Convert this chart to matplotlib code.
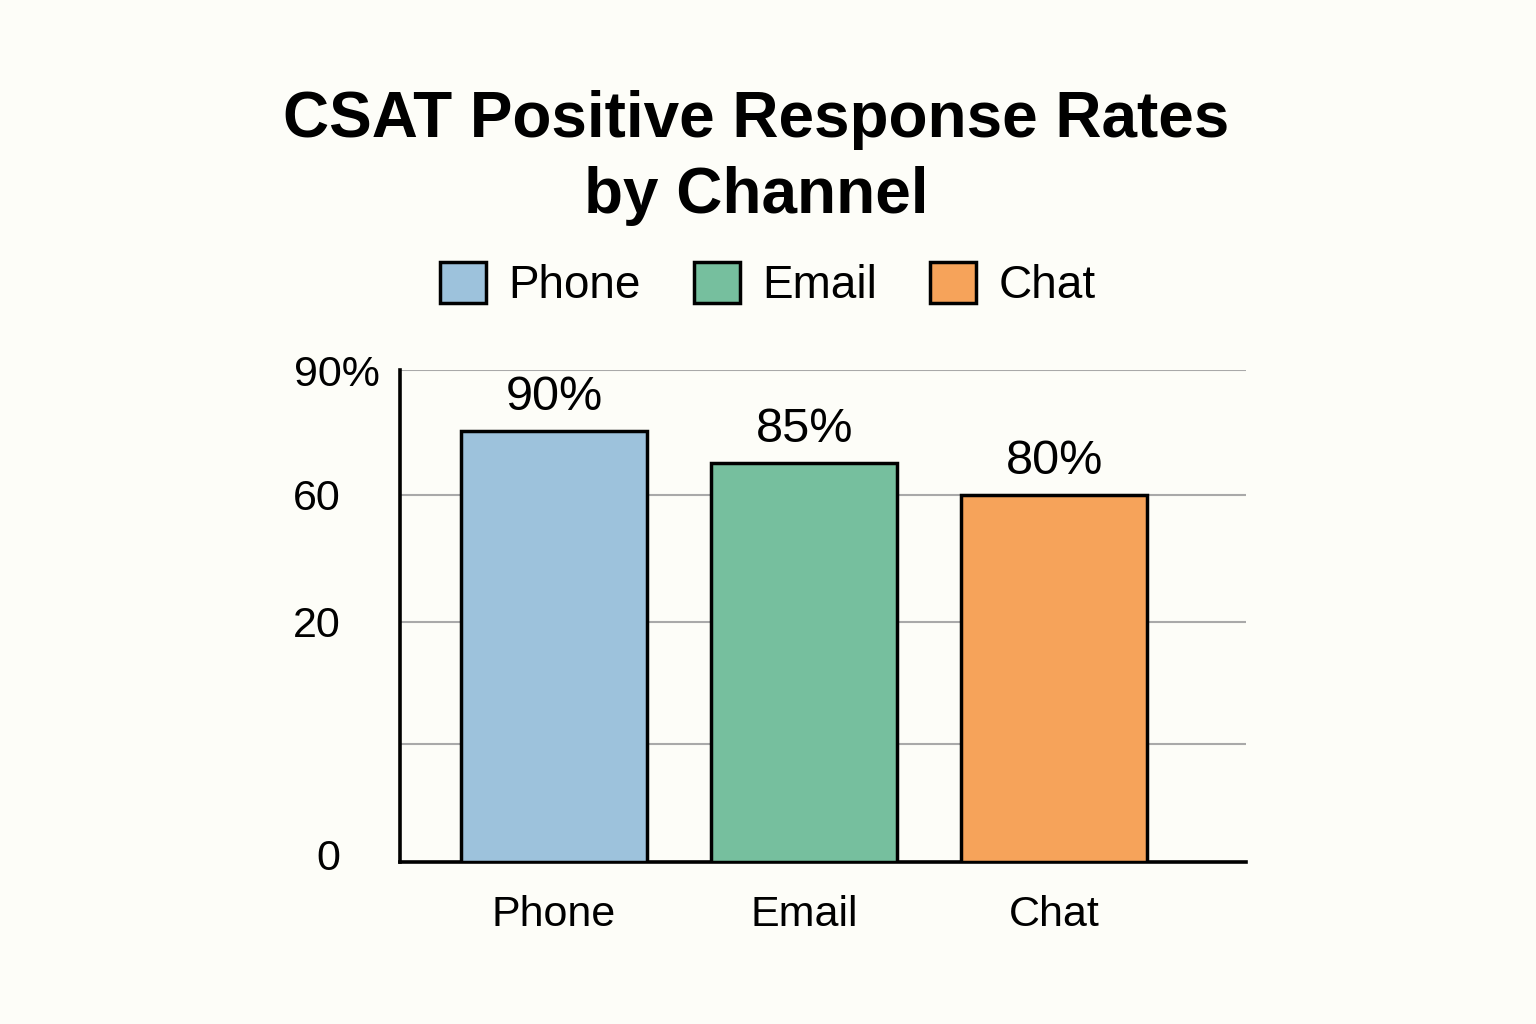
import matplotlib
matplotlib.use("Agg")
import matplotlib.pyplot as plt
from matplotlib.patches import Patch
from matplotlib.transforms import ScaledTranslation

categories = ["Phone", "Email", "Chat"]
values = [90, 85, 80]
value_labels = ["90%", "85%", "80%"]
colors = ["#9dc2dc", "#76bf9e", "#f6a35a"]
ytick_labels = ["0", "20", "60", "90%"]

# axis geometry (in the chart's own drawn units)
y_base, y_top = 22.66, 99.5
ytick_pos = [22.66, 60.2, 80.0, 99.5]
grid_pos = [41.1, 60.2, 80.0, 99.5]

bg = "#fdfdf8"
plt.rcParams['font.family'] = ['Liberation Sans', 'DejaVu Sans']

fig = plt.figure(figsize=(15.36, 10.24), dpi=100, facecolor=bg)
ax = fig.add_axes([400/1536, 1-862/1024, 846/1536, 492/1024])
ax.set_facecolor(bg)

x = list(range(len(categories)))
for g in grid_pos:
    ax.axhline(g, color="#a9a9a9", lw=1.5, zorder=0)

bars = ax.bar(x, [v - y_base for v in values], bottom=y_base, width=0.744,
              color=colors, edgecolor="black", linewidth=2.5, zorder=3)

for xi, v, lab in zip(x, values, value_labels):
    ax.annotate(lab, (xi, v), xytext=(0, 8), textcoords="offset points",
                ha="center", va="bottom", fontsize=35, color="black")

ax.set_xlim(-0.616, 2.766)
ax.set_ylim(y_base, y_top)
ax.set_xticks(x)
ax.set_xticklabels(categories, fontsize=31)
ax.set_yticks(ytick_pos)
ax.set_yticklabels(ytick_labels, fontsize=31)
ax.tick_params(axis="x", length=0, pad=24)
ax.tick_params(axis="y", length=0, pad=43)
for lab in ax.get_yticklabels():
    if lab.get_text().endswith("%"):
        lab.set_transform(lab.get_transform() + ScaledTranslation(0.40, 0, fig.dpi_scale_trans))
    if lab.get_text() == "0":
        lab.set_transform(lab.get_transform() + ScaledTranslation(0, 0.07, fig.dpi_scale_trans))

for s in ["top", "right"]:
    ax.spines[s].set_visible(False)
for s in ["left", "bottom"]:
    ax.spines[s].set_linewidth(2.6)
    ax.spines[s].set_color("black")

fig.text(756/1536, 1-158/1024, "CSAT Positive Response Rates\nby Channel",
         ha="center", va="center", fontsize=46, fontweight="bold",
         linespacing=1.32)

handles = [Patch(facecolor=c, edgecolor="black", linewidth=2.5) for c in colors]
fig.legend(handles, categories, loc="center", bbox_to_anchor=(768/1536, 1-285/1024),
           ncol=3, frameon=False, fontsize=33, handlelength=1.0, handleheight=1.0,
           handletextpad=0.5, columnspacing=1.15)

fig.savefig("out.png", dpi=100, facecolor=bg)
